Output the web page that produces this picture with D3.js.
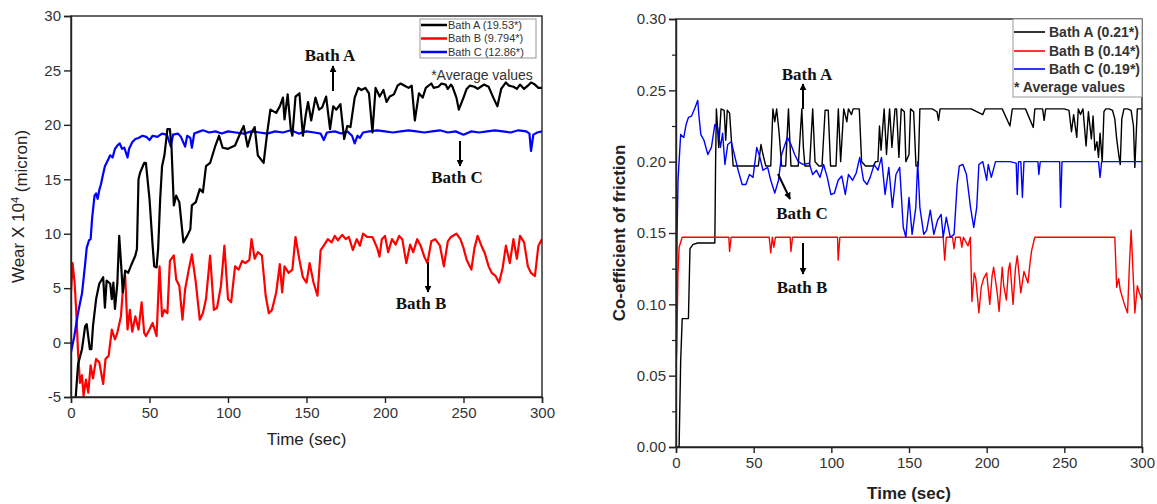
<!DOCTYPE html>
<html><head><meta charset="utf-8">
<script src="https://cdn.jsdelivr.net/npm/d3@7/dist/d3.min.js"></script>
<style>body{margin:0;background:#fff}svg{display:block}</style>
</head><body>
<svg id="c" width="1157" height="504"></svg>
<script>
// ---------- DATA ----------
const timeTicks = [0, 50, 100, 150, 200, 250, 300];
const wearTicks = [-5, 0, 5, 10, 15, 20, 25, 30];
const cofTicks = [0.00, 0.05, 0.10, 0.15, 0.20, 0.25, 0.30];
const wearLegend = ["Bath A (19.53*)", "Bath B (9.794*)", "Bath C (12.86*)"];
const cofLegend = ["Bath A (0.21*)", "Bath B (0.14*)", "Bath C (0.19*)"];
const seriesColors = ["#000000", "#ff0000", "#0000ff"];

const wearA = [[3,-5],[4.5,-2],[7,-0.6],[9,1.5],[10,1.7],[12,-0.6],[13,-0.6],[14,1.5],[16,4],[18,5.4],[20.5,6],[21.6,3.2],[22.7,5.7],[25,5.4],[26,4],[27,5.5],[28,3.1],[29.5,5.4],[30.7,9.8],[32,7],[33,4.6],[34.5,6.6],[36.4,6.4],[38.6,7.2],[41,8],[42,8.6],[43,15],[44,15.6],[46.6,16.5],[47.7,16.5],[50,13.2],[52,8.9],[53,7],[54.5,6.9],[55.5,8.6],[56.8,13.2],[58,16.2],[59.5,17.2],[61.4,19.6],[63,19.6],[64,18],[65.5,12.6],[67,13.5],[69,12.9],[71.6,9.2],[74,9.8],[76,10.4],[77,12.6],[79.5,12.9],[82,14.1],[84,13.8],[86,16.2],[88.6,16.5],[92,18.1],[94.3,19],[96.6,17.9],[100,17.8],[104.5,18.1],[108,19.3],[110,19.9],[112.5,18],[115,19.3],[117,19.8],[119,17.2],[122.7,16.5],[125,19.3],[127,21.4],[130.7,21.1],[133,21.7],[135,22.5],[136,20.5],[138,22.8],[140,19.6],[141,19],[143,22.6],[145.5,22.9],[147.7,19],[149.5,20.9],[151,22.1],[153,20.4],[155.7,22.5],[158,21.4],[160,21.6],[162.5,22.6],[165,19.6],[167,21.7],[169,21.4],[171.6,21.9],[174,18.7],[176,19.9],[178,19.8],[180.7,22.5],[183,23.4],[185,23.2],[187.5,23.4],[189.8,22.9],[192,19.3],[194,23.4],[196.6,22.6],[199,23.2],[201,22.1],[203,22.6],[205.7,22.8],[208,23.6],[210,23.8],[212.5,23.6],[215,23.4],[217,23.6],[219,20.4],[221.6,22.9],[224,22.5],[226,23.4],[229.5,23.8],[231,23.4],[234,23.5],[236,23.8],[238.6,23.7],[240,23.3],[242,23.7],[243,23.5],[245.5,22.5],[247,21.4],[250,22.5],[252,23.3],[254,23.6],[257,23.5],[259,23.3],[261,23.5],[263,23.7],[266,23.5],[269,22.5],[271.6,21.7],[274,23.3],[277,23.9],[279,23.6],[281.8,23.5],[284,23.3],[286,23.7],[288.6,23.3],[291,23.6],[293,23.9],[295.5,23.7],[297.7,23.4],[300,23.4]];

const wearB = [[0,4.6],[1,7.3],[2.3,5.5],[3.4,2.7],[4.5,-0.9],[5.7,-3.7],[7,-3],[8,-4.9],[9.5,-3.4],[11,-4.6],[12.5,-2.1],[14,-3.3],[16,-1.5],[18,-1.8],[20.5,-3.8],[22,-1.5],[24,-1.2],[26,1.2],[28,0.3],[29.5,0.9],[31.8,2.4],[33.4,5.5],[34.5,6.1],[36,1.2],[37.5,3],[39,1],[41,2.4],[43,1.2],[45,3.7],[46.6,0.9],[47.7,0.6],[50,1.2],[52,1.8],[54.5,0.6],[56.4,7],[58,2.4],[59.5,3],[61.4,2.7],[63,7.5],[65.5,8],[67,5.8],[69,5.2],[71,2.1],[72.7,4.9],[75,6.7],[77,8.1],[79.5,5.5],[82,2.1],[84,2.7],[86,4],[88.6,8],[91,3],[93,3.2],[95.5,5.2],[97.7,8.9],[100,4],[102,3.7],[104.5,7],[106.8,6.7],[109,7.5],[111,7.3],[113.6,7.6],[115,9.5],[117,7.7],[119,8.3],[121.6,8],[124,4.3],[126,2.7],[128,3],[130.7,4.6],[133,7.2],[134.5,4.6],[136,7],[138.6,6.4],[141,6.7],[143,9.7],[145.5,7.6],[147.7,6],[150,5.5],[152,7.3],[154.5,5.5],[157,4.3],[159,8.5],[161,8.9],[163.6,9.5],[166,9.2],[168,9.8],[170,9.4],[172.7,9.9],[175,9.5],[177,9.7],[179.5,8.5],[182,9.5],[184,8.9],[186,10],[188.6,9.7],[192,9.7],[195,8.7],[196.5,7.9],[198,9.5],[200,9.8],[202,8.3],[204.5,9.5],[206.8,9],[209,9.8],[211,9.5],[213.6,7.3],[216,9],[218,8.3],[220.5,9.5],[222.7,8.9],[225,7.9],[227,7.3],[229.5,9.3],[232,9.5],[235,8.9],[237.5,7],[240,9.3],[242,9.7],[245.5,10],[248,9.5],[250,8.7],[252,7.6],[255,6.7],[257,8.7],[259,9.8],[261.4,8.9],[263.6,8.2],[266,7],[268,6.4],[270.5,6.1],[272.7,5.5],[275,6.9],[277,8.9],[279.5,7.3],[281.8,9.5],[284,7.7],[286,9.8],[288.6,9.2],[291,7],[293,6.4],[295.5,6.1],[297.7,8.9],[300,9.5]];

const wearC = [[0,-0.9],[2,0.5],[4,2.3],[5,3.1],[7,4.5],[9,7.2],[10,8.7],[11.5,9.4],[12.5,9.5],[13.5,11.5],[15,13.5],[16,13.7],[17,13.2],[18,14],[19,14.5],[20.5,15.5],[21.6,16.2],[23,16.6],[25,17.2],[26.5,17],[28,17.8],[29.5,18.1],[31,18.3],[32.5,17.8],[34,17.9],[36,17],[37,17.8],[39,18.4],[41,18.7],[43,18.8],[45.5,19],[48,18.9],[50,18.6],[52,19],[55,18.9],[58,19.2],[61,19.1],[62.5,18.5],[63.6,18],[65,19.1],[68,19.2],[70,18.9],[72.7,18],[74,19],[76,18.8],[77,17.9],[78.5,19.2],[82,19.4],[84,19.5],[88,19.3],[92,19.4],[96,19.2],[100,19.4],[105,19.3],[110,19.2],[115,19.4],[120,19.3],[125,19.2],[130,19.4],[135,19.3],[140,19.5],[145,19.2],[150,19.4],[155,19.3],[159,19.2],[161,18.6],[163,19.3],[168,19.4],[172,19.2],[176,19.4],[179,19],[180.7,18.3],[182.5,19],[184,18.8],[186,19.3],[190,19.4],[195,19.5],[200,19.4],[205,19.3],[210,19.4],[215,19.5],[220,19.4],[225,19.3],[230,19.4],[235,19.5],[240,19.3],[245,19.4],[250,19.1],[255,19.4],[260,19.3],[265,19.4],[270,19.5],[275,19.4],[280,19.3],[285,19.5],[290,19.4],[292,19.2],[293,17.6],[294.5,19.1],[297,19.3],[300,19.4]];

const cofA = [[0,0],[2,0],[3,0.06],[4,0.09],[8,0.09],[9,0.139],[11,0.142],[14,0.143],[25,0.143],[25.5,0.2],[26,0.237],[27.5,0.21],[29,0.237],[31,0.236],[32,0.215],[33,0.236],[34.5,0.234],[36.8,0.197],[53,0.197],[54.7,0.212],[56,0.205],[57.8,0.197],[61,0.197],[62.4,0.237],[63.6,0.228],[64.8,0.237],[66.4,0.22],[68,0.197],[70.6,0.197],[72.4,0.237],[74,0.197],[78.7,0.197],[81,0.237],[82,0.21],[83,0.197],[86,0.197],[88,0.237],[89.5,0.2],[92,0.197],[94,0.197],[96,0.236],[98,0.236],[99.5,0.197],[103,0.197],[104.5,0.237],[106,0.2],[108,0.237],[110,0.228],[111,0.237],[113,0.233],[114,0.237],[118,0.237],[119.5,0.2],[122,0.197],[127,0.197],[128.5,0.2],[130,0.2],[131,0.225],[132,0.208],[134,0.237],[135.5,0.205],[137.5,0.237],[139,0.21],[141,0.237],[142,0.237],[143.5,0.203],[145,0.237],[147,0.235],[148,0.2],[150,0.205],[151,0.237],[153,0.235],[154.5,0.197],[156,0.197],[157,0.237],[160,0.237],[165,0.237],[168,0.235],[169,0.229],[170,0.237],[180,0.237],[190,0.237],[197.5,0.233],[199,0.237],[210,0.237],[215,0.225],[216.5,0.237],[225,0.237],[230,0.224],[231,0.237],[236,0.237],[237,0.229],[238,0.237],[250,0.237],[253,0.236],[254.6,0.221],[256,0.233],[258,0.217],[259,0.237],[260.4,0.233],[262,0.237],[264,0.211],[265.5,0.235],[267.4,0.216],[268.5,0.232],[269.7,0.208],[271,0.214],[272,0.203],[273,0.22],[274.4,0.2],[275.5,0.235],[276.7,0.237],[279,0.237],[281,0.236],[282.5,0.23],[283.7,0.216],[285,0.205],[286,0.198],[287,0.23],[288.4,0.237],[290.7,0.237],[293,0.236],[294.5,0.225],[295.4,0.196],[296.5,0.225],[297,0.237],[300,0.237]];

const cofB = [[0,0.056],[0.5,0.068],[1.2,0.12],[2,0.14],[4,0.147],[34,0.147],[34.5,0.137],[35.5,0.147],[60,0.147],[61,0.136],[62,0.147],[63,0.14],[64,0.147],[73.5,0.147],[74,0.137],[75,0.147],[104,0.147],[104.4,0.131],[105.5,0.147],[172,0.147],[173,0.131],[174,0.147],[178,0.147],[179,0.139],[180,0.147],[183,0.147],[184,0.14],[185,0.147],[188,0.141],[189.5,0.147],[190.5,0.102],[192,0.122],[193,0.118],[195,0.094],[196.5,0.112],[198,0.118],[200,0.122],[202,0.1],[203.5,0.12],[204.5,0.126],[206.8,0.108],[208,0.095],[210,0.126],[211,0.113],[212.7,0.103],[214,0.124],[215,0.129],[217,0.1],[218.5,0.125],[219.7,0.134],[222,0.108],[224,0.123],[226.6,0.115],[228,0.13],[229,0.138],[231,0.147],[282.5,0.147],[283.7,0.112],[285,0.118],[286,0.11],[288.4,0.101],[290.7,0.094],[292,0.13],[293,0.152],[294,0.128],[295.4,0.094],[297,0.113],[298,0.109],[300,0.103]];

const cofC = [[0,0.068],[0.7,0.15],[1.3,0.187],[3,0.219],[5,0.217],[6.5,0.226],[8,0.231],[10,0.232],[12.3,0.238],[14,0.243],[14.7,0.233],[16,0.219],[18,0.215],[20.5,0.205],[22.8,0.21],[25,0.226],[26.8,0.224],[28.6,0.21],[30,0.22],[31.5,0.198],[33.3,0.212],[35.6,0.214],[38,0.203],[40,0.194],[42.6,0.184],[45,0.184],[47.3,0.191],[49.6,0.189],[52,0.21],[54,0.203],[56,0.194],[59,0.196],[61,0.187],[63.6,0.178],[66,0.187],[68,0.205],[71.7,0.217],[74,0.212],[76.4,0.205],[78.7,0.2],[82,0.198],[85.7,0.199],[88,0.191],[90.4,0.194],[92.7,0.189],[95,0.198],[97.4,0.189],[99.7,0.177],[102,0.178],[104.4,0.187],[106.7,0.19],[109,0.177],[111,0.191],[113.7,0.187],[116,0.192],[118.3,0.203],[120.7,0.187],[123,0.184],[125,0.189],[127.6,0.198],[130,0.194],[132.3,0.203],[134.6,0.177],[137,0.196],[139.3,0.168],[141.6,0.191],[144,0.196],[146.3,0.154],[148,0.147],[150,0.175],[152,0.149],[154.4,0.168],[155.6,0.2],[157,0.168],[159.5,0.149],[161.4,0.152],[163.7,0.166],[166,0.149],[168.4,0.159],[170.7,0.163],[172,0.147],[174,0.161],[176.6,0.147],[179,0.149],[181,0.184],[182.4,0.197],[184.7,0.198],[187,0.191],[189.6,0.168],[191.7,0.154],[193.6,0.168],[195,0.198],[197.5,0.2],[200,0.187],[201,0.198],[203,0.189],[205.7,0.2],[210,0.2],[215,0.2],[219,0.199],[219.7,0.177],[220.5,0.2],[222,0.2],[223,0.175],[224,0.2],[233,0.2],[233.6,0.191],[234.5,0.2],[247,0.2],[247.6,0.168],[248.5,0.2],[272,0.2],[273,0.189],[274,0.2],[300,0.2]];

// ---------- DRAW ----------
const svg = d3.select("#c");
const sans = "'Liberation Sans', Arial, sans-serif";
const serif = "'Liberation Serif', 'Times New Roman', serif";

svg.append("defs").append("marker")
  .attr("id", "arr").attr("viewBox", "0 0 10 10").attr("refX", 9).attr("refY", 5)
  .attr("markerWidth", 7).attr("markerHeight", 7).attr("markerUnits", "userSpaceOnUse").attr("orient", "auto")
  .append("path").attr("d", "M0,0 L10,5 L0,10 z").attr("fill", "#000");

function panel(cfg) {
  const g = svg.append("g");
  const x = d3.scaleLinear().domain([0, 300]).range([cfg.x0, cfg.x1]);
  const y = d3.scaleLinear().domain(cfg.yDomain).range([cfg.y1, cfg.y0]);

  const line = d3.line().x(d => x(d[0])).y(d => y(d[1]));
  const clipId = "clip" + cfg.id;
  svg.select("defs").append("clipPath").attr("id", clipId).append("rect")
    .attr("x", cfg.x0).attr("y", cfg.y0 - 2).attr("width", cfg.x1 - cfg.x0).attr("height", cfg.y1 - cfg.y0 + 2);
  cfg.order.forEach(i => {
    g.append("path").datum(cfg.series[i]).attr("d", line).attr("fill", "none")
      .attr("stroke", seriesColors[i]).attr("stroke-width", cfg.lw).attr("stroke-linejoin", "round")
      .attr("clip-path", `url(#${clipId})`);
  });

  g.append("rect").attr("x", cfg.x0).attr("y", cfg.y0).attr("width", cfg.x1 - cfg.x0).attr("height", cfg.y1 - cfg.y0)
    .attr("fill", "none").attr("stroke", "#222").attr("stroke-width", 1.4);

  const xa = g.append("g").attr("transform", `translate(0,${cfg.y1})`)
    .call(d3.axisBottom(x).tickValues(timeTicks).tickSize(6).tickPadding(4).tickFormat(d => String(d)));
  const ya = g.append("g").attr("transform", `translate(${cfg.x0},0)`)
    .call(d3.axisLeft(y).tickValues(cfg.yTicks).tickSize(7).tickPadding(3).tickFormat(cfg.yFmt));
  if (cfg.minor) {
    g.append("g").attr("transform", `translate(${cfg.x0},0)`)
      .call(d3.axisLeft(y).tickValues(cfg.minor).tickSize(4).tickFormat(""))
      .call(a => a.select(".domain").remove())
      .selectAll("line").attr("stroke", "#222").attr("stroke-width", 1.2);
  }
  [xa, ya].forEach(a => {
    a.select(".domain").attr("stroke", "#222").attr("stroke-width", 1.4);
    a.selectAll(".tick line").attr("stroke", "#222").attr("stroke-width", 1.4);
    a.selectAll(".tick text").attr("font-family", sans).attr("font-size", cfg.tickFs).attr("fill", "#333");
  });

  g.append("text").attr("x", (cfg.x0 + cfg.x1) / 2).attr("y", cfg.xTitleY).attr("text-anchor", "middle")
    .attr("font-family", sans).attr("font-size", cfg.titleFs).attr("font-weight", cfg.titleW).attr("fill", "#222")
    .text("Time (sec)");
  const yt = g.append("text").attr("transform", `translate(${cfg.yTitleX},${(cfg.y0 + cfg.y1) / 2}) rotate(-90)`)
    .attr("text-anchor", "middle").attr("font-family", sans).attr("font-size", cfg.titleFs)
    .attr("font-weight", cfg.titleW).attr("fill", "#222");
  cfg.yTitle(yt);

  const L = cfg.legend;
  g.append("rect").attr("x", L.x).attr("y", L.y).attr("width", L.w).attr("height", L.h)
    .attr("fill", "#fff").attr("stroke", "#999").attr("stroke-width", 1);
  cfg.legendText.forEach((t, i) => {
    const yy = L.rowY[i];
    g.append("line").attr("x1", L.x + 1).attr("x2", L.lineX2).attr("y1", yy).attr("y2", yy)
      .attr("stroke", seriesColors[i]).attr("stroke-width", L.lw);
    g.append("text").attr("x", L.textX).attr("y", yy).attr("dy", "0.35em")
      .attr("font-family", sans).attr("font-size", L.fs).attr("font-weight", L.fw).attr("fill", "#333").text(t);
  });
  g.append("text").attr("x", L.noteX).attr("y", L.noteY).attr("dy", "0.35em").attr("text-anchor", L.noteAnchor)
    .attr("font-family", sans).attr("font-size", L.noteFs).attr("font-weight", L.fw).attr("fill", "#333")
    .text(L.note);

  cfg.notes.forEach(n => {
    g.append("text").attr("x", n.tx).attr("y", n.ty).attr("dy", "0.35em").attr("text-anchor", "middle")
      .attr("font-family", serif).attr("font-weight", "bold").attr("font-size", 17).attr("fill", "#111").text(n.label);
    g.append("line").attr("x1", n.ax1).attr("y1", n.ay1).attr("x2", n.ax2).attr("y2", n.ay2)
      .attr("stroke", "#000").attr("stroke-width", 2).attr("marker-end", "url(#arr)");
  });
}

panel({
  id: "L", x0: 71, x1: 542, y0: 16, y1: 397, yDomain: [-5, 30], yTicks: wearTicks,
  yFmt: d => String(d), series: [wearA, wearB, wearC], order: [1, 2, 0], lw: 2.2,
  tickFs: 15, titleFs: 17, titleW: "normal", xTitleY: 445, yTitleX: 24,
  yTitle: t => { t.append("tspan").text("Wear X 10");
                 t.append("tspan").attr("dy", "-0.45em").attr("font-size", 11).text("4");
                 t.append("tspan").attr("dy", "0.45em").text(" (micron)"); },
  legend: { x: 420, y: 19, w: 116, h: 39, rowY: [25, 38.5, 52], lineX2: 447, textX: 448, lw: 2.5,
            fs: 11, fw: "normal", note: "*Average values", noteX: 482, noteY: 75, noteAnchor: "middle", noteFs: 14 },
  legendText: wearLegend,
  notes: [
    { label: "Bath A", tx: 330, ty: 55, ax1: 333, ay1: 91, ax2: 333, ay2: 66 },
    { label: "Bath C", tx: 457, ty: 177, ax1: 460, ay1: 141, ax2: 460, ay2: 166 },
    { label: "Bath B", tx: 421, ty: 303, ax1: 428, ay1: 262, ax2: 428, ay2: 292 }
  ]
});

panel({
  id: "R", x0: 676, x1: 1142, y0: 19, y1: 447, yDomain: [0, 0.30], yTicks: cofTicks,
  yFmt: d3.format(".2f"), series: [cofA, cofB, cofC], order: [0, 1, 2], lw: 1.4,
  minor: [0.025, 0.075, 0.125, 0.175, 0.225, 0.275],
  tickFs: 15, titleFs: 17, titleW: "bold", xTitleY: 499, yTitleX: 625,
  yTitle: t => t.text("Co-efficient of friction"),
  legend: { x: 1013, y: 19, w: 129, h: 78, rowY: [32, 51, 69], lineX2: 1045, textX: 1049, lw: 1.6,
            fs: 14, fw: "bold", note: "* Average values", noteX: 1014, noteY: 87, noteAnchor: "start", noteFs: 14 },
  legendText: cofLegend,
  notes: [
    { label: "Bath A", tx: 807, ty: 74, ax1: 803, ay1: 109, ax2: 803, ay2: 84 },
    { label: "Bath C", tx: 802, ty: 213, ax1: 778, ay1: 174, ax2: 790, ay2: 199 },
    { label: "Bath B", tx: 802, ty: 287, ax1: 803, ay1: 243, ax2: 803, ay2: 274 }
  ]
});
</script>
</body></html>
